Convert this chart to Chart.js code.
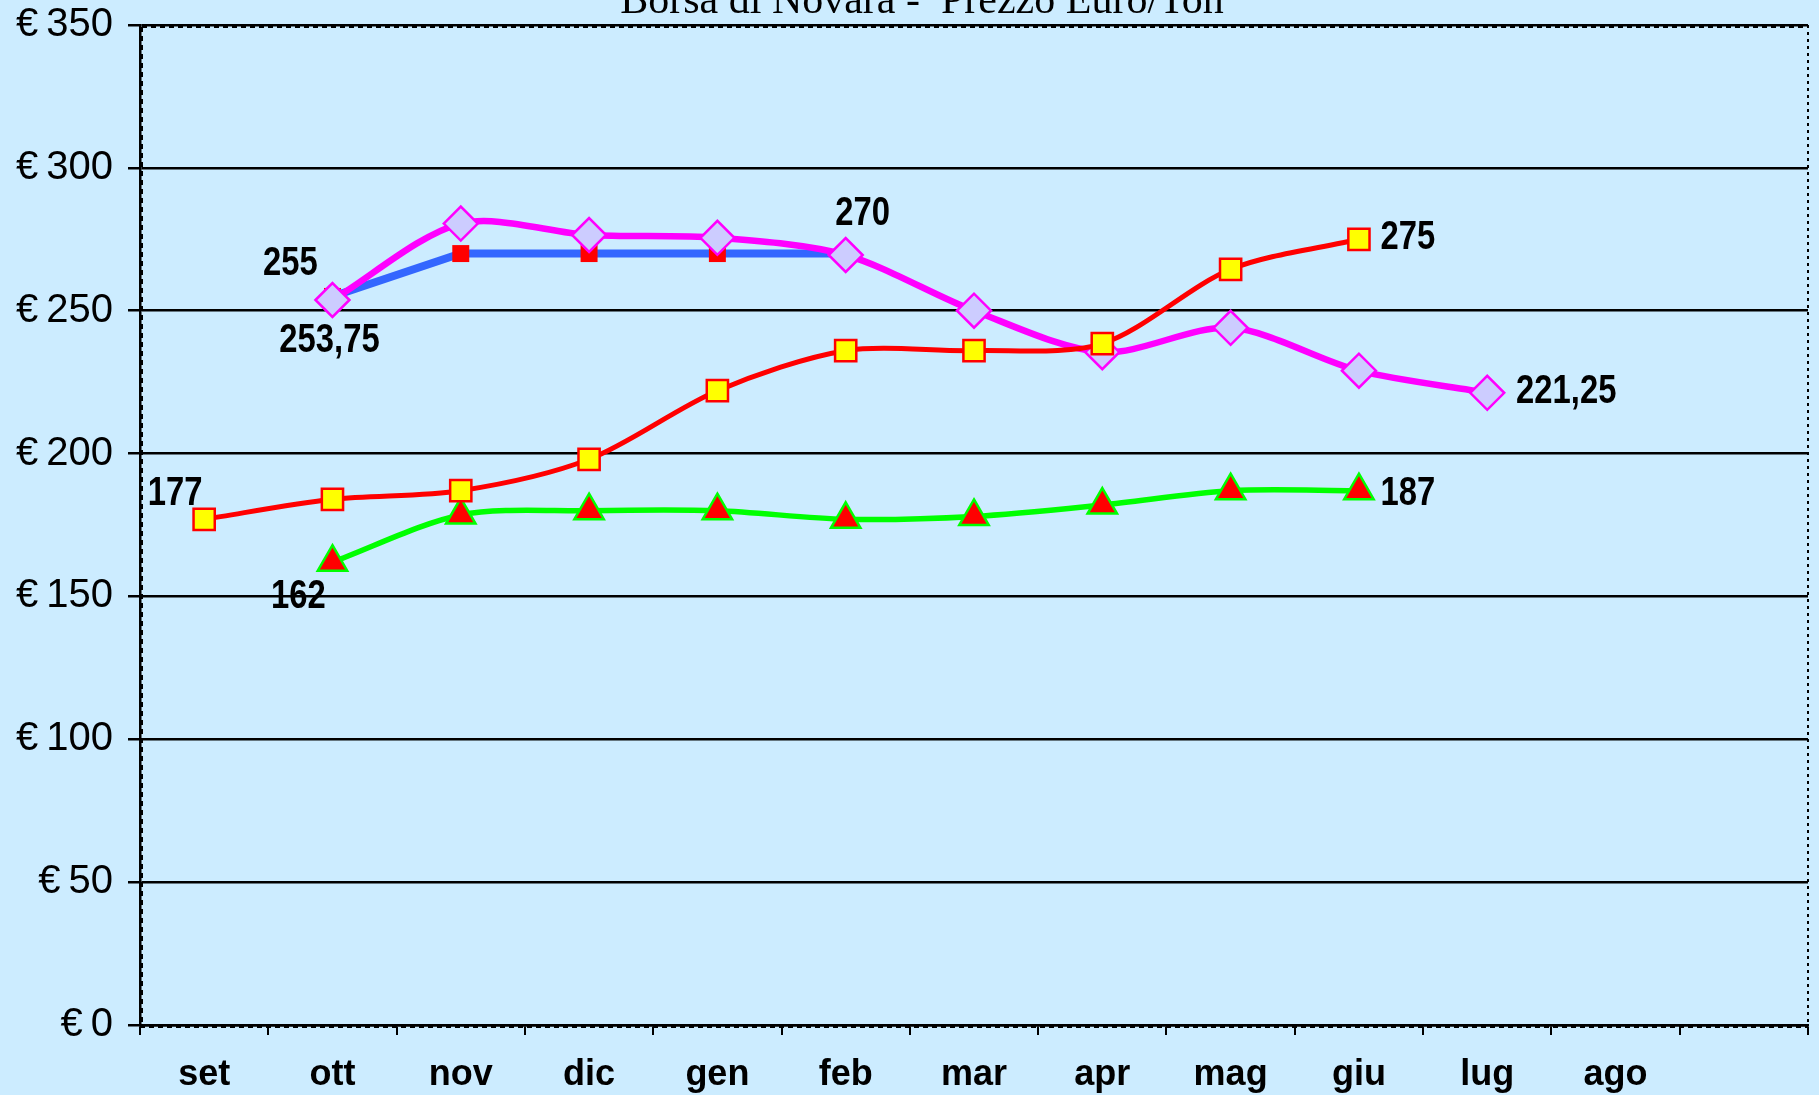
<!DOCTYPE html>
<html>
<head>
<meta charset="utf-8">
<script src="https://cdn.jsdelivr.net/npm/chart.js@4/dist/chart.umd.min.js"></script>
<style>
  html, body { margin: 0; padding: 0; background: #CCECFF; overflow: hidden; }
  canvas { display: block; }
</style>
</head>
<body>
<canvas id="chart" width="1819" height="1095"></canvas>
<script>
const months = ['set', 'ott', 'nov', 'dic', 'gen', 'feb', 'mar', 'apr', 'mag', 'giu', 'lug', 'ago', ''];

const seriesRed = [177, 184, 187, 198, 222, 236, 236, 238.5, 264.5, 275, null, null, null];
const seriesMagenta = [null, 253.75, 280.5, 276.5, 275.5, 269.5, 250, 235.5, 244, 229, 221.25, null, null];
const seriesBlue = [null, 255, 270, 270, 270, 270, null, null, null, null, null, null, null];
const seriesGreen = [null, 162, 178.5, 180, 180, 177, 178, 182, 187, 187, null, null, null];

const yTicks = [0, 50, 100, 150, 200, 250, 300, 350];
const title = 'Borsa di Novara -  Prezzo Euro/Ton';

// which points carry a value label: [dataset index, month index, dx, dy]
const pointLabels = [
  [0, 0, -29, -25],
  [3, 1, -34, 35],
  [2, 1, -42, -32],
  [1, 1, -3, 41],
  [2, 5, 17, -40],
  [0, 9, 49, -1],
  [3, 9, 49, 3],
  [1, 10, 79, -1]
];

const fmt = (v) => v.toLocaleString('it-IT');

const frame = {
  id: 'frame',
  afterDraw(chart) {
    const {ctx, chartArea: a} = chart;
    ctx.save();
    ctx.strokeStyle = '#000';
    ctx.lineWidth = 2;
    ctx.setLineDash([5, 4]);
    ctx.beginPath();
    ctx.moveTo(a.left + 2, a.top + 2);
    ctx.lineTo(a.right, a.top + 2);
    ctx.moveTo(a.left + 2, a.top + 2);
    ctx.lineTo(a.left + 2, a.bottom);
    ctx.moveTo(a.left, a.bottom + 2);
    ctx.lineTo(a.right, a.bottom + 2);
    ctx.stroke();
    ctx.setLineDash([3, 4]);
    ctx.beginPath();
    ctx.moveTo(a.right, a.top);
    ctx.lineTo(a.right, a.bottom);
    ctx.stroke();
    ctx.setLineDash([]);

    ctx.fillStyle = '#000';
    ctx.font = '42px "Liberation Serif", "Times New Roman", serif';
    ctx.textAlign = 'center';
    ctx.textBaseline = 'alphabetic';
    ctx.fillText(title, 922, 13);

    // narrow bold value labels
    ctx.font = 'bold 40px "Liberation Sans", Arial, sans-serif';
    ctx.textBaseline = 'middle';
    pointLabels.forEach(([ds, i, dx, dy]) => {
      const pt = chart.getDatasetMeta(ds).data[i];
      const v = chart.data.datasets[ds].data[i];
      ctx.save();
      ctx.translate(pt.x + dx, pt.y + dy);
      ctx.scale(0.82, 1);
      ctx.fillText(fmt(v), 0, 0);
      ctx.restore();
    });
    ctx.restore();
  }
};

function noPad(s) {
  s.paddingTop = 0;
  s.paddingBottom = 0;
  s.paddingLeft = 0;
  s.paddingRight = 0;
}

new Chart(document.getElementById('chart'), {
  type: 'line',
  data: {
    labels: months,
    datasets: [
      {
        label: 'red',
        data: seriesRed,
        borderColor: '#FF0000',
        borderWidth: 5,
        tension: 0.3,
        pointStyle: 'rect',
        pointRadius: 15,
        pointBackgroundColor: '#FFFF00',
        pointBorderColor: '#FF0000',
        pointBorderWidth: 2.5
      },
      {
        label: 'magenta',
        data: seriesMagenta,
        borderColor: '#FF00FF',
        borderWidth: 6.5,
        tension: 0.3,
        pointStyle: 'rectRot',
        pointRadius: 17,
        pointBackgroundColor: '#CCCCFF',
        pointBorderColor: '#FF00FF',
        pointBorderWidth: 2.5
      },
      {
        label: 'blue',
        data: seriesBlue,
        borderColor: '#3366FF',
        borderWidth: 8,
        tension: 0,
        pointStyle: 'rect',
        pointRadius: 12,
        pointBackgroundColor: '#FF0000',
        pointBorderColor: '#FF0000',
        pointBorderWidth: 0
      },
      {
        label: 'green',
        data: seriesGreen,
        borderColor: '#00FF00',
        borderWidth: 5.5,
        tension: 0.3,
        pointStyle: 'triangle',
        pointRadius: 17,
        pointBackgroundColor: '#FF0000',
        pointBorderColor: '#00FF00',
        pointBorderWidth: 2.5
      }
    ]
  },
  options: {
    responsive: false,
    animation: false,
    // big point markers would otherwise push the plot edge inwards
    layout: {autoPadding: false, padding: {top: 25, right: 11, left: 0, bottom: 0}},
    plugins: {
      legend: {display: false},
      tooltip: {enabled: false}
    },
    scales: {
      x: {
        offset: true,
        grid: {offset: true, drawOnChartArea: false, drawTicks: true, tickLength: 10, color: '#000', lineWidth: 2},
        border: {color: '#000', width: 2.5},
        ticks: {
          color: '#000',
          padding: 3,
          maxRotation: 0,
          autoSkip: false,
          font: {family: '"Liberation Sans", Arial, sans-serif', size: 36, weight: 'bold', lineHeight: 2.08}
        },
        afterFit: (s) => { s.height = 70; noPad(s); }
      },
      y: {
        min: yTicks[0],
        max: yTicks[yTicks.length - 1],
        afterBuildTicks: (s) => { s.ticks = yTicks.map((v) => ({value: v})); },
        grid: {color: '#000', lineWidth: 2.5, tickLength: 12},
        border: {color: '#000', width: 2.5},
        ticks: {
          color: '#000',
          padding: 15,
          font: {family: '"Liberation Sans", Arial, sans-serif', size: 40},
          callback: (v) => '€\u2009' + v
        },
        afterFit: (s) => { s.width = 140; noPad(s); }
      }
    }
  },
  plugins: [frame]
});
</script>
</body>
</html>
